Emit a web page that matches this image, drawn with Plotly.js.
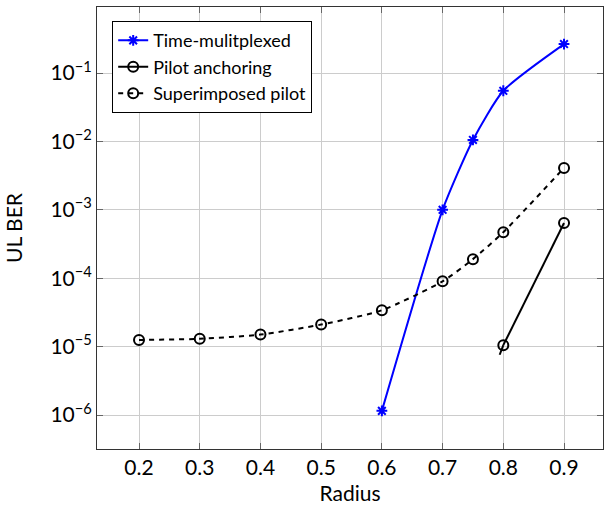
<!DOCTYPE html>
<html><head><meta charset="utf-8">
<script src="https://cdn.plot.ly/plotly-3.0.1.min.js"></script>
<style>body{margin:0;padding:0;background:#fff}#chart{width:605px;height:506px}</style>
</head><body><div id="chart"></div>
<script>
const tmX = [0.6, 0.7, 0.75, 0.8, 0.9];
const tmY = [1.15e-6, 1.0e-3, 1.05e-2, 5.5e-2, 0.265];
const paX = [0.8, 0.9];
const paY = [1.05e-5, 6.4e-4];
const paTailX = [0.794, 0.8];
const paTailY = [7.6e-6, 1.05e-5];
const spX = [0.2, 0.3, 0.4, 0.5, 0.6, 0.7, 0.75, 0.8, 0.9];
const spY = [1.25e-5, 1.3e-5, 1.5e-5, 2.1e-5, 3.4e-5, 9.0e-5, 1.9e-4, 4.7e-4, 4.1e-3];
const xTicks = [0.2, 0.3, 0.4, 0.5, 0.6, 0.7, 0.8, 0.9];
const yTickVals = [1e-6, 1e-5, 1e-4, 1e-3, 1e-2, 1e-1];
const yTickText = ['10<sup>−6</sup>','10<sup>−5</sup>','10<sup>−4</sup>','10<sup>−3</sup>','10<sup>−2</sup>','10<sup>−1</sup>'];
const yDecades = [-7, -6, -5, -4, -3, -2, -1];
const minorVals = [];
yDecades.forEach(d => { for (let m = 2; m <= 9; m++) { const v = m * Math.pow(10, d); if (v > 3.2e-7 && v < 0.92) minorVals.push(v); } });

const shapes = [];
minorVals.forEach(v => {
  const lv = Math.log10(v);
  shapes.push({type: 'line', xref: 'paper', yref: 'y', x0: 0, x1: 0.008, y0: lv, y1: lv, line: {color: '#777', width: 1}});
  shapes.push({type: 'line', xref: 'paper', yref: 'y', x0: 0.992, x1: 1, y0: lv, y1: lv, line: {color: '#777', width: 1}});
});

const fam = 'Lato, "DejaVu Sans", sans-serif';
const font = {family: fam, size: 21, color: '#000'};
const traces = [
  {x: tmX, y: tmY, name: 'Time-mulitplexed', mode: 'lines+markers',
   line: {color: '#0000ff', width: 2, shape: 'spline', smoothing: 0.6},
   marker: {symbol: 'asterisk-open', size: 9, color: '#0000ff', line: {color: '#0000ff', width: 2}}},
  {x: paX, y: paY, name: 'Pilot anchoring', mode: 'lines+markers',
   line: {color: '#000', width: 2},
   marker: {symbol: 'circle-open', size: 10, color: '#000', line: {color: '#000', width: 2}}},
  {x: paTailX, y: paTailY, name: 'Pilot anchoring', mode: 'lines', showlegend: false,
   line: {color: '#000', width: 2}},
  {x: spX, y: spY, name: 'Superimposed pilot', mode: 'lines+markers',
   line: {color: '#000', width: 2, dash: '5px,5px', shape: 'spline', smoothing: 0.6},
   marker: {symbol: 'circle-open', size: 10, color: '#000', line: {color: '#000', width: 2}}}
];
const layout = {
  width: 605, height: 506,
  margin: {l: 97, r: 2, t: 7, b: 57},
  paper_bgcolor: '#fff', plot_bgcolor: '#fff',
  font: font,
  showlegend: true,
  shapes: shapes,
  legend: {x: 0.03, y: 0.968, xanchor: 'left', yanchor: 'top', bgcolor: '#fff',
           bordercolor: '#000', borderwidth: 1, font: {family: fam, size: 18, color: '#000'},
           tracegroupgap: 0},
  xaxis: {range: [0.1308, 0.9642], tickvals: xTicks, ticktext: xTicks.map(v => v.toFixed(1)),
          showgrid: true, gridcolor: '#cccccc', gridwidth: 1, zeroline: false,
          showline: true, linecolor: '#333', linewidth: 1, mirror: 'ticks',
          ticks: 'inside', ticklen: 6, tickcolor: '#666',
          title: {text: 'Radius', font: font, standoff: 8}, tickfont: font},
  yaxis: {type: 'log', range: [-6.497, -0.035], tickvals: yTickVals, ticktext: yTickText,
          showgrid: true, gridcolor: '#cccccc', gridwidth: 1, zeroline: false,
          showline: true, linecolor: '#333', linewidth: 1, mirror: 'ticks',
          ticks: 'inside', ticklen: 6, tickcolor: '#666',
          title: {text: 'UL BER', font: font, standoff: 22}, tickfont: font}
};
Plotly.newPlot('chart', traces, layout, {displayModeBar: false, staticPlot: true});
</script></body></html>
